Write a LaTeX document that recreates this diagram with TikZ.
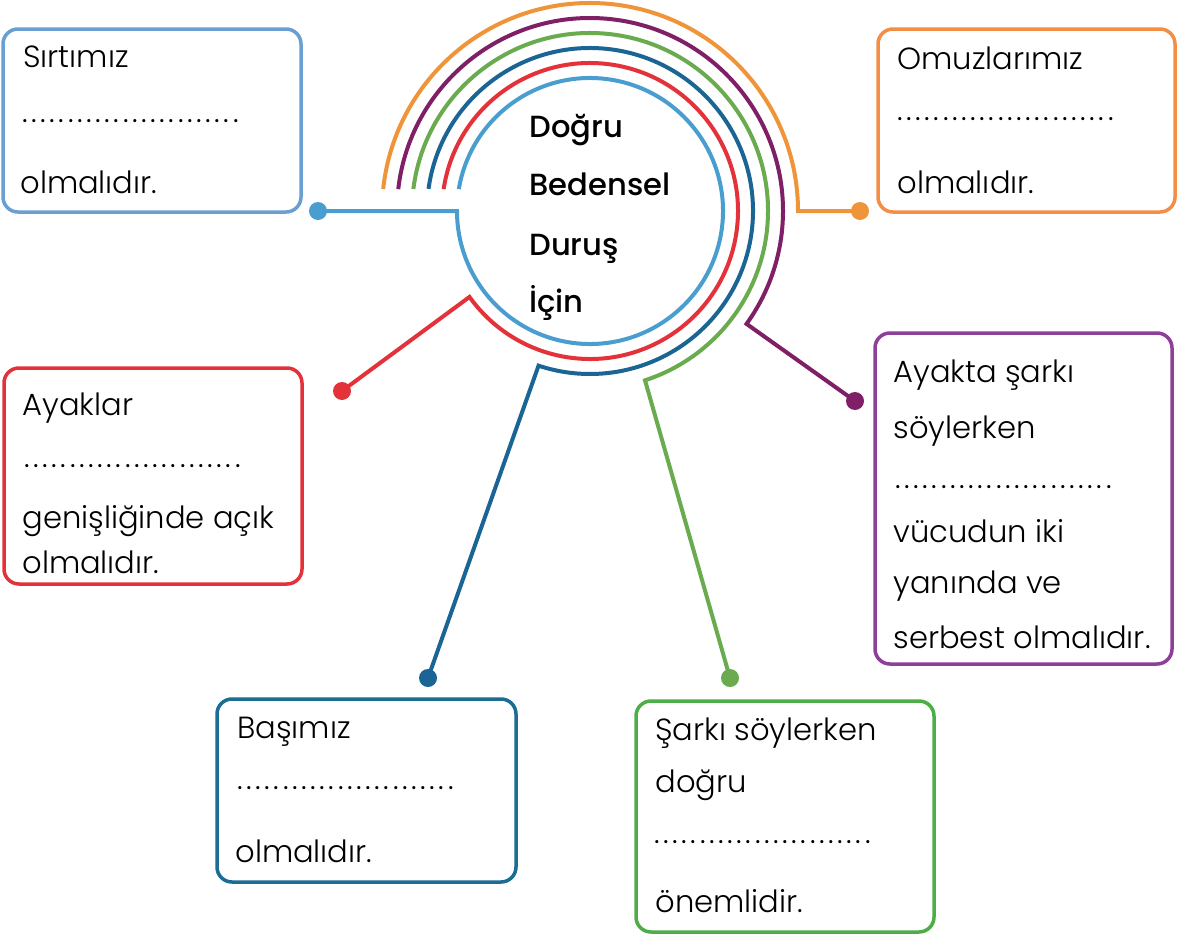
\documentclass[tikz,border=0pt]{standalone}
\usepackage{fontspec}
\usetikzlibrary{fit}
\IfFontExistsTF{Poppins Light}{\setmainfont{Poppins Light}}{\setmainfont{Poppins}}
\IfFontExistsTF{Poppins Medium}{\newfontfamily\ctrfont{Poppins Medium}}{\newfontfamily\ctrfont{Poppins}}
\definecolor{cLB}{HTML}{4A9ECF}
\definecolor{bLB}{HTML}{6A9FD2}
\definecolor{cRed}{HTML}{E3323A}
\definecolor{cDB}{HTML}{1B6594}
\definecolor{bDB}{HTML}{1C6C94}
\definecolor{cGr}{HTML}{6AAB4F}
\definecolor{bGr}{HTML}{4DAE48}
\definecolor{cPu}{HTML}{7F1F66}
\definecolor{bPu}{HTML}{8E3F98}
\definecolor{cOr}{HTML}{F0943A}
\definecolor{bOr}{HTML}{F58E45}
\newcommand{\blank}{\makebox[110pt][l]{\xleaders\hbox to 4.58pt{\hss.\hss}\hfill}}
\begin{document}
\begin{tikzpicture}[x=0.5pt,y=-0.5pt,
  arcline/.style={line width=2pt},
  dotnode/.style={circle, fill=#1, inner sep=0pt, minimum size=9pt},
  boxnode/.style={draw=#1, line width=1.75pt, rounded corners=7.5pt, inner sep=0pt},
  txt/.style={anchor=base west, inner sep=0pt, font=\fontsize{15.3}{18}\selectfont},
  ctr/.style={anchor=base west, inner sep=0pt, font=\ctrfont\fontsize{15.3}{19}\selectfont}]
\useasboundingbox (0,0) rectangle (1179,937);
\coordinate (C) at (590,211);
% dots
\node[dotnode=cLB] (dLB) at (318,211) {};
\node[dotnode=cOr] (dOr) at (860,211) {};
\node[dotnode=cRed] (dRed) at (342,391) {};
\node[dotnode=cPu] (dPu) at (855,401) {};
\node[dotnode=cDB] (dDB) at (428,678) {};
\node[dotnode=cGr] (dGr) at (730,678) {};
% arcs with connectors
\draw[arcline, cLB] ([shift={(189.5:133)}]C) arc[start angle=189.5, end angle=540, radius=133] -- (dLB.center);
\draw[arcline, cRed] ([shift={(188.5:148)}]C) arc[start angle=188.5, end angle=504.5, radius=148] -- (dRed.center);
\draw[arcline, cDB] ([shift={(187.8:163)}]C) arc[start angle=187.8, end angle=468.4, radius=163] -- (dDB.center);
\draw[arcline, cGr] ([shift={(187.1:178)}]C) arc[start angle=187.1, end angle=432, radius=178] -- (dGr.center);
\draw[arcline, cPu] ([shift={(186.5:193)}]C) arc[start angle=186.5, end angle=395.8, radius=193] -- (dPu.center);
\draw[arcline, cOr] ([shift={(186.1:208)}]C) arc[start angle=186.1, end angle=360, radius=208] -- (dOr.center);
% centre text
\node[ctr] (t1) at (529,137) {Doğru};
\node[ctr] (t2) at (529,195) {Bedensel};
\node[ctr] (t3) at (529,255) {Duruş};
\node[ctr] (t4) at (529,312) {İçin};
% boxes
\node[boxnode=bLB, fit={(3,29)(301,212)}] (bxLB) {};
\node[boxnode=bOr, fit={(878,29)(1175,212)}] (bxOr) {};
\node[boxnode=cRed, fit={(4,368)(302,584)}] (bxRed) {};
\node[boxnode=bPu, fit={(875,333)(1172,664)}] (bxPu) {};
\node[boxnode=bDB, fit={(217,699)(516,882)}] (bxDB) {};
\node[boxnode=bGr, fit={(636,701)(934,932)}] (bxGr) {};
% box texts
\node[txt] (a1) at (23,68) {Sırtımız};
\node[txt] (a2) at (20,122) {\blank};
\node[txt] (a3) at (20,193) {olmalıdır.};
\node[txt] (b1) at (897,69) {Omuzlarımız};
\node[txt] (b2) at (895,120) {\blank};
\node[txt] (b3) at (897,193) {olmalıdır.};
\node[txt] (c1) at (22,415) {Ayaklar};
\node[txt] (c2) at (22,467) {\blank};
\node[txt] (c3) at (22,528) {genişliğinde açık};
\node[txt] (c4) at (22,573) {olmalıdır.};
\node[txt] (d1) at (893,382) {Ayakta şarkı};
\node[txt] (d2) at (893,438) {söylerken};
\node[txt] (d3) at (893,488) {\blank};
\node[txt] (d4) at (893,542) {vücudun iki};
\node[txt] (d5) at (893,593) {yanında ve};
\node[txt] (d6) at (893,648) {serbest olmalıdır.};
\node[txt] (e1) at (237,738) {Başımız};
\node[txt] (e2) at (235,789) {\blank};
\node[txt] (e3) at (235,862) {olmalıdır.};
\node[txt] (f1) at (655,740) {Şarkı söylerken};
\node[txt] (f2) at (655,792) {doğru};
\node[txt] (f3) at (652,843) {\blank};
\node[txt] (f4) at (655,912) {önemlidir.};
\end{tikzpicture}
\end{document}
